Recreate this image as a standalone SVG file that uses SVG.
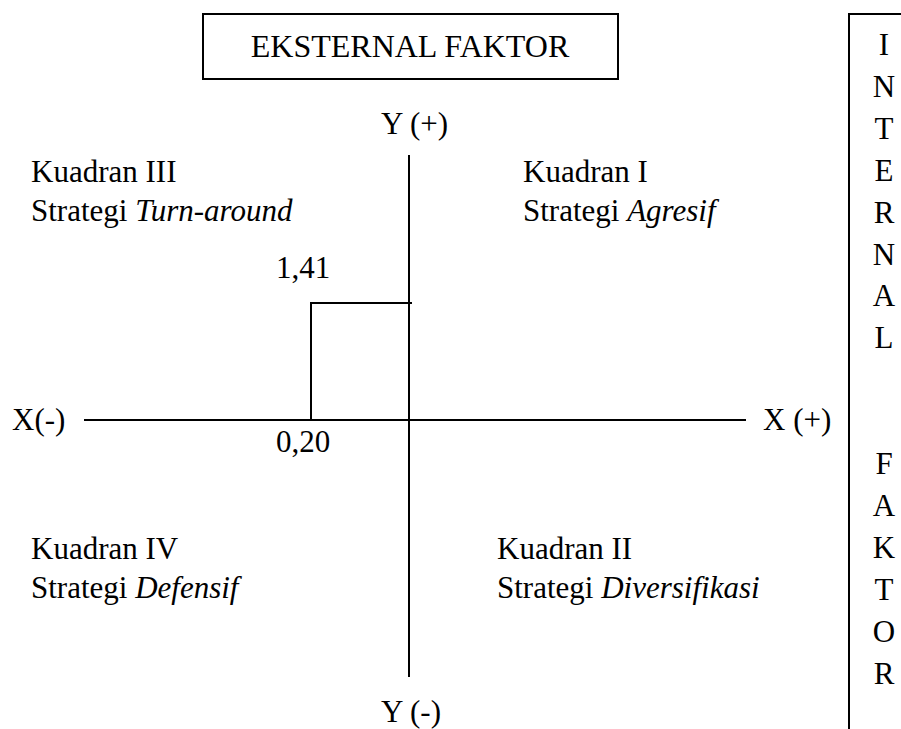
<svg xmlns="http://www.w3.org/2000/svg" width="901" height="729" viewBox="0 0 901 729">
<style>
text{font-family:"Liberation Serif","Times New Roman",serif;fill:#000;font-size:31px}
.ln{stroke:#000;stroke-width:2;fill:none}
.it{font-style:italic}
.v{text-anchor:middle}
</style>
<rect width="901" height="729" fill="#fff"/>
<g id="eksternal">
<rect class="ln" x="203" y="14" width="415" height="65"/>
<text x="410" y="57" text-anchor="middle" style="font-size:32px">EKSTERNAL FAKTOR</text>
</g>
<g id="internal">
<path class="ln" d="M849,729 V14 H902"/>
<text class="v" x="884" y="55">I</text>
<text class="v" x="884" y="97">N</text>
<text class="v" x="884" y="139">T</text>
<text class="v" x="884" y="181">E</text>
<text class="v" x="884" y="223">R</text>
<text class="v" x="884" y="265">N</text>
<text class="v" x="884" y="306">A</text>
<text class="v" x="884" y="348">L</text>
<text class="v" x="884" y="474">F</text>
<text class="v" x="884" y="516">A</text>
<text class="v" x="884" y="558">K</text>
<text class="v" x="884" y="600">T</text>
<text class="v" x="884" y="642">O</text>
<text class="v" x="884" y="684">R</text>
</g>
<g id="connectors">
<line class="ln" x1="409" y1="155" x2="409" y2="677"/>
<line class="ln" x1="84" y1="420" x2="746" y2="420"/>
<path class="ln" d="M311,420 V303 H412"/>
</g>
<g id="axis-labels">
<text x="381" y="134">Y (+)</text>
<text x="381" y="722">Y (-)</text>
<text x="12" y="430">X(-)</text>
<text x="763" y="430">X (+)</text>
<text x="276" y="278">1,41</text>
<text x="276" y="452">0,20</text>
</g>
<g id="kuadran3">
<text x="31" y="182">Kuadran III</text>
<text x="31" y="221">Strategi <tspan class="it">Turn-around</tspan></text>
</g>
<g id="kuadran1">
<text x="523" y="182">Kuadran I</text>
<text x="523" y="221">Strategi <tspan class="it">Agresif</tspan></text>
</g>
<g id="kuadran4">
<text x="31" y="559">Kuadran IV</text>
<text x="31" y="598">Strategi <tspan class="it">Defensif</tspan></text>
</g>
<g id="kuadran2">
<text x="497" y="559">Kuadran II</text>
<text x="497" y="598">Strategi <tspan class="it">Diversifikasi</tspan></text>
</g>
</svg>
